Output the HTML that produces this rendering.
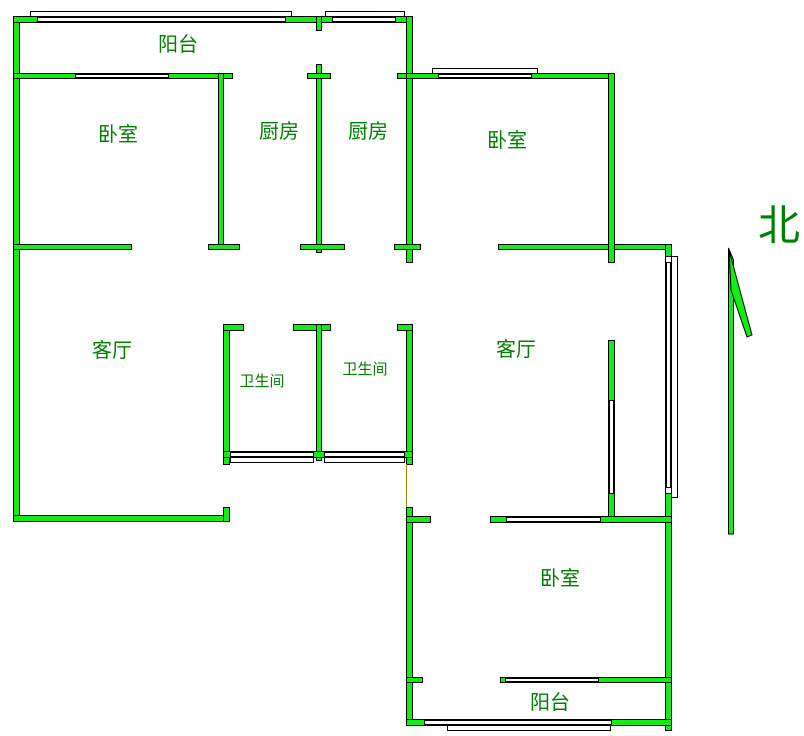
<!DOCTYPE html>
<html><head><meta charset="utf-8"><style>
html,body{margin:0;padding:0;background:#fff;width:804px;height:736px;overflow:hidden}
svg{display:block}
.w{fill:#11ee11;stroke:#000;stroke-width:1}
.win{fill:#fff;stroke:#000;stroke-width:1}
text{font-family:"Liberation Sans","Noto Sans CJK SC",sans-serif;fill:#008000;font-size:20px;text-anchor:middle}
</style></head><body>
<svg width="804" height="736" viewBox="0 0 804 736">
<!-- window frames (outer) -->
<rect class="win" x="30.5" y="11.5" width="261" height="6"/>
<rect class="win" x="325.5" y="11.5" width="79" height="6"/>
<rect class="win" x="432.5" y="68.5" width="105" height="6"/>
<rect class="win" x="671.5" y="256.5" width="6" height="241"/>
<rect class="win" x="230.5" y="456.5" width="83" height="6"/>
<rect class="win" x="324.5" y="456.5" width="80" height="6"/>
<rect class="win" x="447.5" y="724.5" width="163" height="6"/>

<!-- outer left block -->
<rect class="w" x="13.5" y="16.5" width="6" height="505"/>
<rect class="w" x="13.5" y="16.5" width="399" height="6"/>
<rect class="win" x="37.5" y="17.5" width="248" height="4"/>
<rect class="win" x="332.5" y="17.5" width="63" height="4"/>
<rect class="w" x="316.5" y="16.5" width="5" height="14"/>
<rect class="w" x="406.5" y="16.5" width="6" height="246"/>
<!-- balcony/bedroom wall -->
<rect class="w" x="13.5" y="73.5" width="219" height="5"/>
<rect class="win" x="75.5" y="74.5" width="93" height="3"/>
<rect class="w" x="218.5" y="73.5" width="5" height="175"/>
<!-- kitchen divider -->
<rect class="w" x="316.5" y="64.5" width="5" height="188"/>
<rect class="w" x="307.5" y="73.5" width="23" height="5"/>
<rect class="w" x="397.5" y="73.5" width="24" height="5"/>
<!-- y 244 line -->
<rect class="w" x="13.5" y="244.5" width="118" height="5"/>
<rect class="w" x="208.5" y="244.5" width="31" height="5"/>
<rect class="w" x="300.5" y="244.5" width="44" height="5"/>
<rect class="w" x="394.5" y="244.5" width="26" height="5"/>
<rect class="w" x="498.5" y="244.5" width="173" height="5"/>
<!-- right bedroom -->
<rect class="w" x="406.5" y="73.5" width="208" height="5"/>
<rect class="win" x="438.5" y="74.5" width="93" height="3"/>
<rect class="w" x="608.5" y="73.5" width="6" height="189"/>
<!-- living right -->
<rect class="w" x="665.5" y="244.5" width="6" height="486"/>
<rect class="win" x="666.5" y="262.5" width="4" height="229"/>
<rect class="win" x="665.5" y="256.5" width="6" height="6"/>
<rect class="win" x="665.5" y="487.5" width="6" height="6"/>
<rect class="w" x="608.5" y="340.5" width="6" height="181"/>
<rect class="win" x="609.5" y="400.5" width="4" height="93"/>
<rect class="w" x="490.5" y="516.5" width="181" height="6"/>
<rect class="win" x="506.5" y="517.5" width="94" height="4"/>
<!-- left living bottom -->
<rect class="w" x="13.5" y="515.5" width="216" height="6"/>
<rect class="w" x="223.5" y="507.5" width="6" height="14"/>
<!-- bathrooms -->
<rect class="w" x="223.5" y="324.5" width="6" height="140"/>
<rect class="w" x="223.5" y="324.5" width="20" height="6"/>
<rect class="w" x="293.5" y="324.5" width="37" height="6"/>
<rect class="w" x="316.5" y="324.5" width="5" height="136"/>
<rect class="w" x="406.5" y="324.5" width="6" height="140"/>
<rect class="w" x="397.5" y="324.5" width="15" height="6"/>
<rect class="w" x="223.5" y="451.5" width="189" height="6"/>
<rect class="win" x="230.5" y="452.5" width="83" height="4"/>
<rect class="win" x="324.5" y="452.5" width="80" height="4"/>
<line x1="406.5" y1="464" x2="406.5" y2="508" stroke="#998800" stroke-width="1"/>
<!-- lower right -->
<rect class="w" x="406.5" y="507.5" width="6" height="218"/>
<rect class="w" x="406.5" y="516.5" width="24" height="6"/>
<rect class="w" x="406.5" y="719.5" width="265" height="6"/>
<rect class="win" x="424.5" y="720.5" width="187" height="4"/>
<rect class="w" x="406.5" y="677.5" width="16" height="5"/>
<rect class="w" x="500.5" y="677.5" width="171" height="5"/>
<rect class="win" x="505.5" y="678.5" width="93" height="3"/>
<!-- north arrow -->
<polygon points="728.5,248 733.5,260 733.5,534 728.5,534" class="w"/>
<polygon points="729,250 752,335 747,337 731,290" class="w"/>
<text x="779" y="240" style="font-size:42px">北</text>
<!-- labels -->
<text x="178" y="51">阳台</text>
<text x="118" y="141">卧室</text>
<text x="279" y="138">厨房</text>
<text x="368" y="138">厨房</text>
<text x="507" y="147">卧室</text>
<text x="112" y="357">客厅</text>
<text x="516" y="356">客厅</text>
<text x="262" y="386" style="font-size:15px">卫生间</text>
<text x="365" y="374" style="font-size:15px">卫生间</text>
<text x="560" y="585">卧室</text>
<text x="550" y="709">阳台</text>
</svg>
</body></html>
